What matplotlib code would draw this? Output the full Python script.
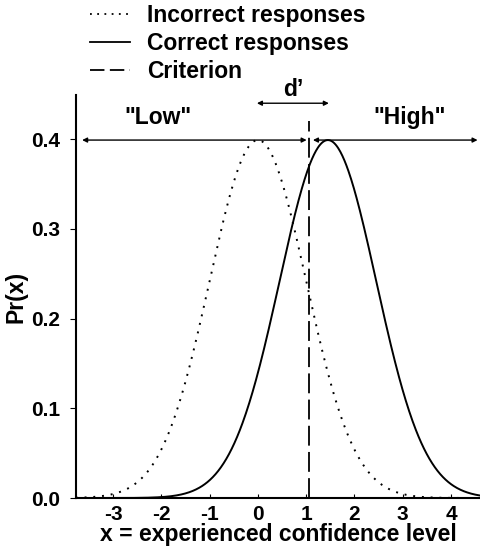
import numpy as np
import matplotlib
matplotlib.use('Agg')
import matplotlib.pyplot as plt
from matplotlib.lines import Line2D

plt.rcParams['font.family'] = ['Liberation Sans', 'DejaVu Sans']
plt.rcParams['font.weight'] = 'bold'
plt.rcParams['axes.unicode_minus'] = False

# %% data

labels = ['Incorrect responses', 'Correct responses', 'Criterion']
means = [0.0, 1.45]       # incorrect, correct
sds = [1.0, 1.0]
criterion = 1.06
xticks = [-3, -2, -1, 0, 1, 2, 3, 4]
yticks = [0.0, 0.1, 0.2, 0.3, 0.4]
region_labels = ['"Low"', '"High"']

dotted = (0, (1, 3.5))
dashed = (0, (11, 3.5))

# %% plot

def pdf(x, m, s):
    return np.exp(-0.5 * ((x - m) / s) ** 2) / (s * np.sqrt(2 * np.pi))

fig = plt.figure(figsize=(4.8, 5.5), dpi=100)
ax = fig.add_axes([0.158, 0.0945, 0.842, 0.7325])

x = np.linspace(-3.77, 4.6, 600)
ax.plot(x, pdf(x, means[0], sds[0]), color='black', lw=1.4, ls=dotted)
ax.plot(x, pdf(x, means[1], sds[1]), color='black', lw=1.4)
ax.plot([criterion, criterion], [0, 0.42], color='black', lw=1.3,
        ls=dashed, clip_on=False)

peak = pdf(means[0], means[0], sds[0])
arrow = dict(arrowstyle='<|-|>', color='black', lw=1.0, mutation_scale=7,
             shrinkA=0, shrinkB=0)
ax.annotate('', xy=(-3.64, peak), xytext=(criterion - 0.05, peak),
            arrowprops=arrow, annotation_clip=False)
ax.annotate('', xy=(4.55, peak), xytext=(criterion + 0.08, peak),
            arrowprops=arrow, annotation_clip=False)
ax.annotate('', xy=(means[0] - 0.02, 0.44), xytext=(means[1] + 0.02, 0.44),
            arrowprops=arrow, annotation_clip=False)

ax.text(-2.08, 0.411, region_labels[0], ha='center', va='bottom',
        fontsize=16.5, fontweight='bold')
ax.text(3.15, 0.411, region_labels[1], ha='center', va='bottom',
        fontsize=16.5, fontweight='bold')
ax.text((means[0] + means[1]) / 2, 0.443, "d\u2019", ha='center', va='bottom',
        fontsize=16.5, fontweight='bold', clip_on=False)

ax.set_xlim(-3.77, 4.6)
ax.set_ylim(0, 0.449)
ax.set_xticks(xticks)
ax.set_yticks(yticks)
ax.set_yticklabels(['%.1f' % v for v in yticks])
ax.tick_params(axis='x', direction='in', length=3, labelsize=15, pad=5)
ax.tick_params(axis='y', direction='out', length=4, labelsize=15, pad=7)
for lab in ax.get_xticklabels() + ax.get_yticklabels():
    lab.set_fontweight('bold')
ax.spines['top'].set_visible(False)
ax.spines['right'].set_visible(False)
ax.spines['left'].set_linewidth(1.5)
ax.spines['bottom'].set_linewidth(1.5)

ax.set_xlabel('x = experienced confidence level', fontsize=16.5,
              fontweight='bold', labelpad=-1)
ax.set_ylabel('Pr(x)', fontsize=16.5, fontweight='bold', labelpad=3)

handles = [Line2D([], [], color='black', lw=1.3, ls=(0, (1, 3))),
           Line2D([], [], color='black', lw=1.3),
           Line2D([], [], color='black', lw=1.3, ls=(0, (8, 3)))]
fig.legend(handles, labels, loc='upper left', bbox_to_anchor=(0.1875, 0.992),
           frameon=False, handlelength=1.75, handletextpad=0.75,
           labelspacing=0.2, borderaxespad=0, borderpad=0,
           prop={'weight': 'bold', 'size': 16.5})

fig.savefig('out.png', dpi=100)
